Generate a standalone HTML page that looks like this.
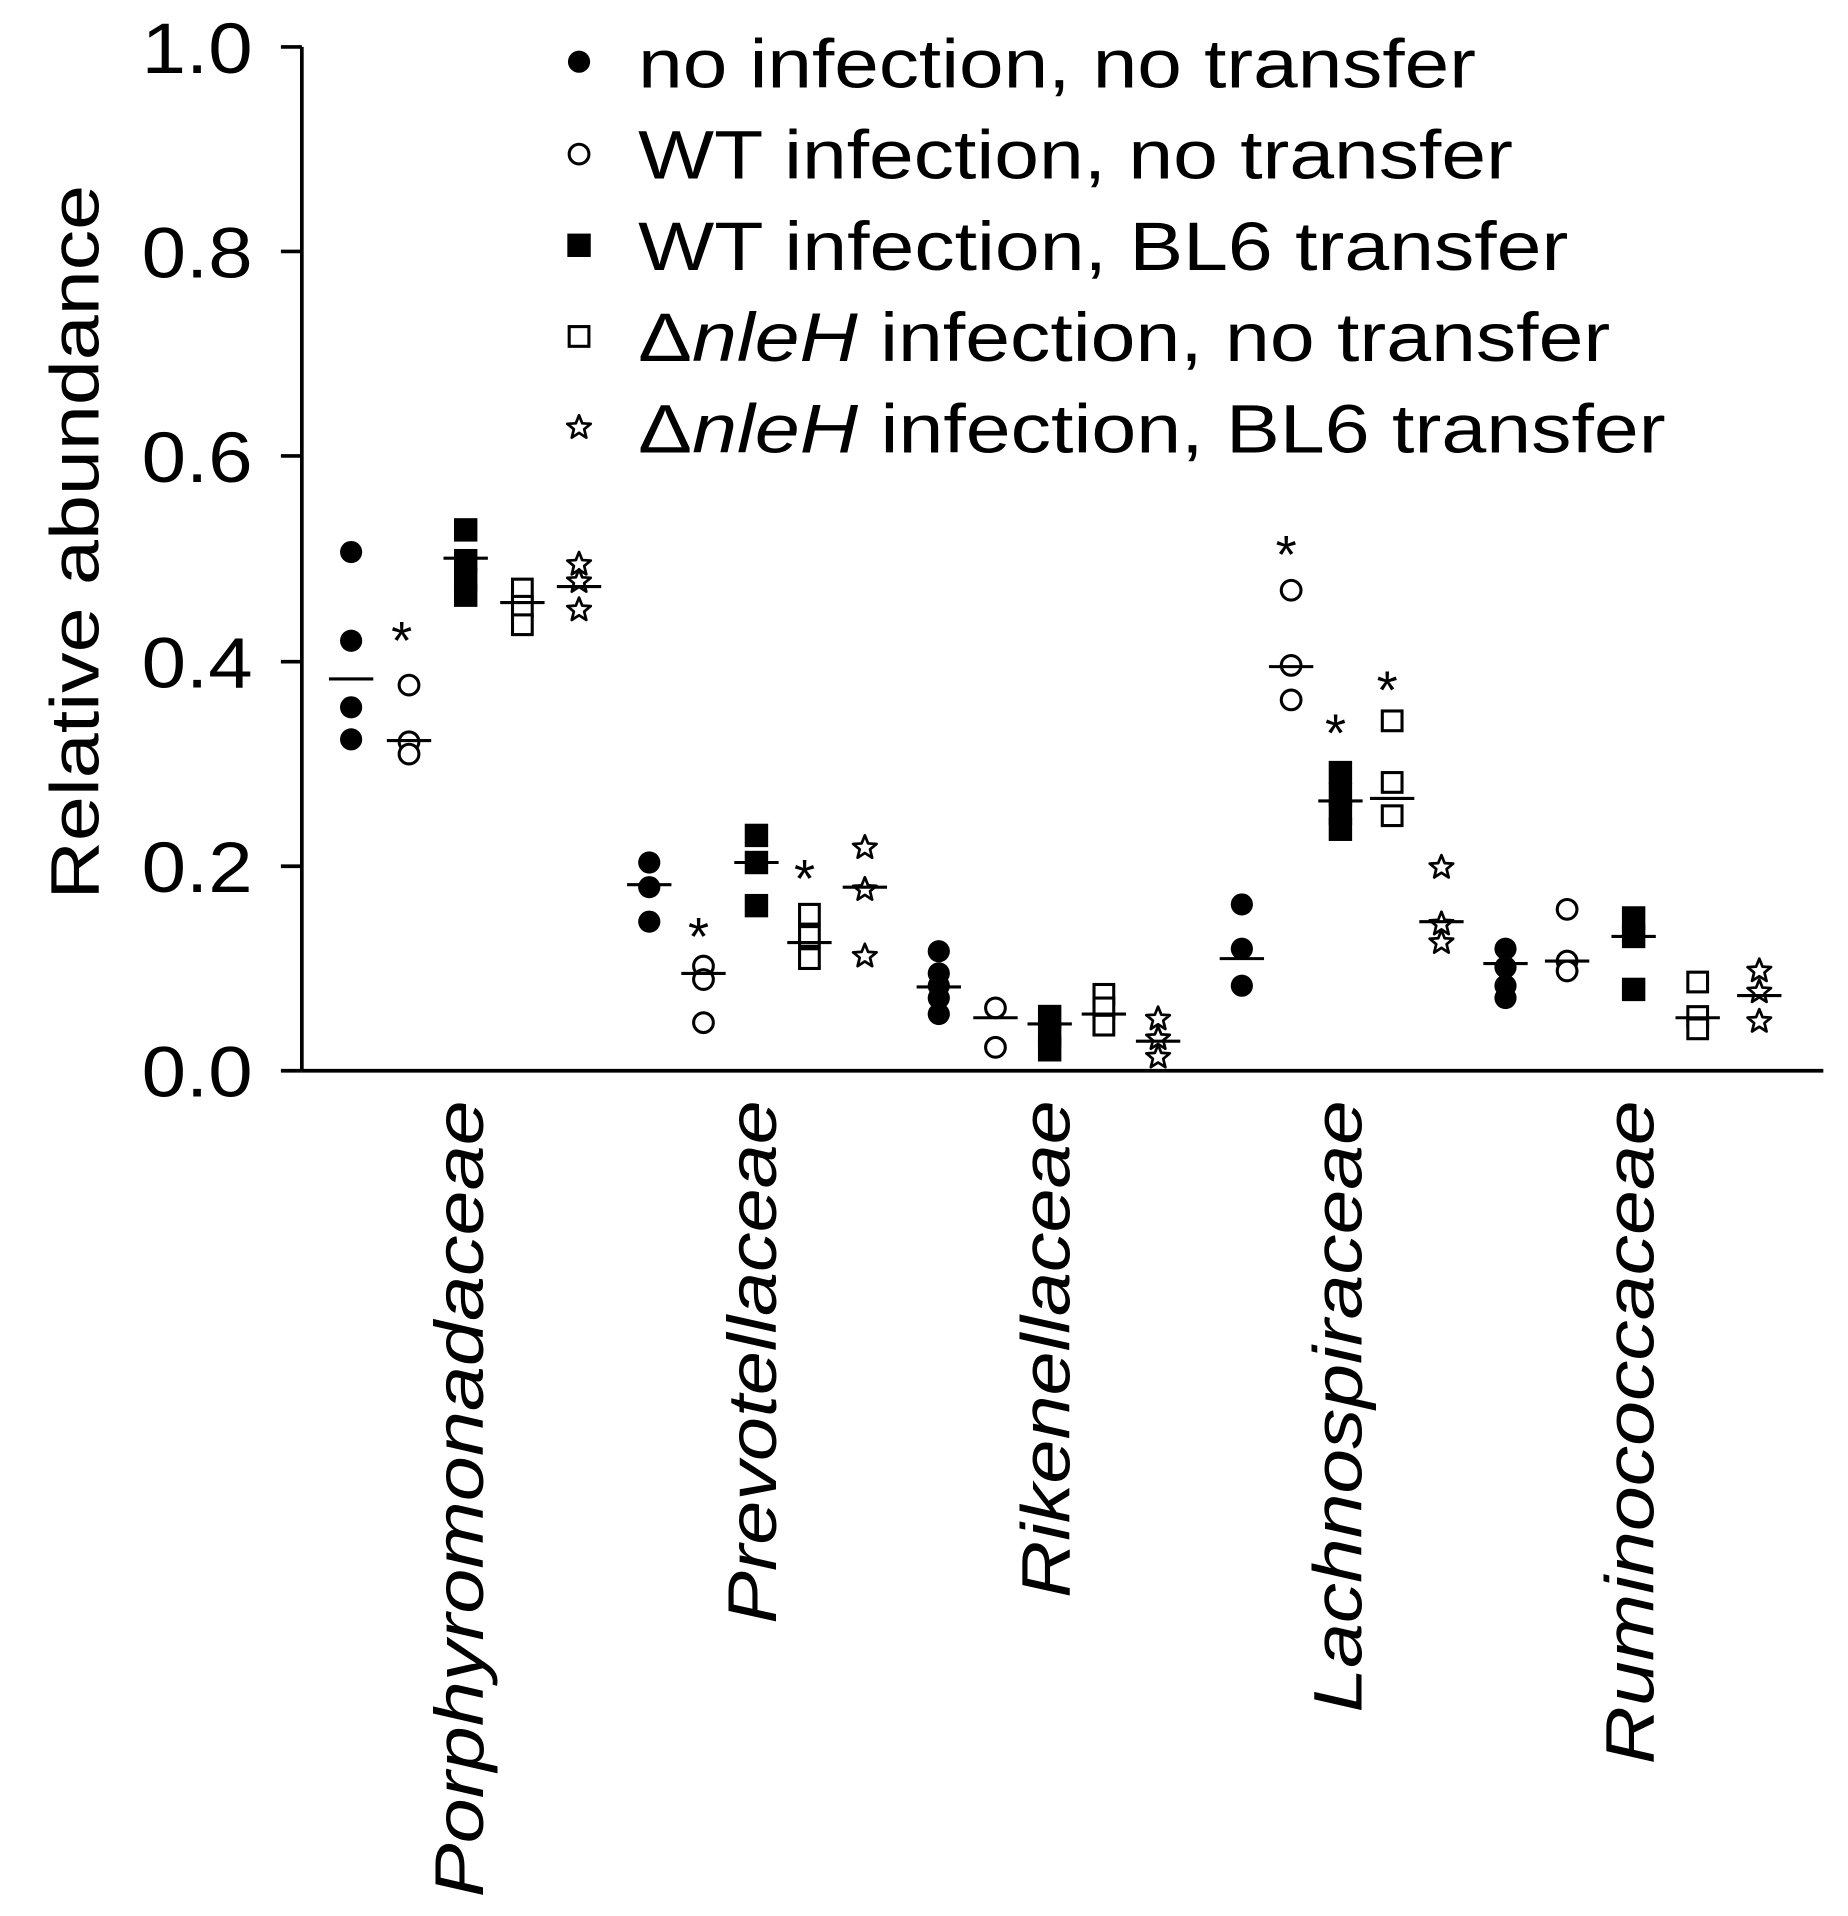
<!DOCTYPE html>
<html><head><meta charset="utf-8"><style>html,body{margin:0;padding:0;background:#fff}svg{display:block}</style></head>
<body>
<svg width="1848" height="1916" viewBox="0 0 1500 1555" xmlns="http://www.w3.org/2000/svg" font-family="Liberation Sans, Arial, sans-serif">
<defs>
<circle id="fc" r="9" fill="#000"/>
<circle id="oc" r="8" fill="#fff" stroke="#000" stroke-width="2.5"/>
<rect id="fs" x="-9.5" y="-9.5" width="19" height="19" fill="#000"/>
<rect id="os" x="-8" y="-8" width="16" height="16" fill="#fff" stroke="#000" stroke-width="2.5"/>
<polygon id="st" points="0,-10 2.6,-3.5 9.5,-3.1 4.2,1.3 5.9,8.1 0,4.3 -5.9,8.1 -4.2,1.3 -9.5,-3.1 -2.6,-3.5" fill="#fff" stroke="#000" stroke-width="2.2" stroke-linejoin="round"/>
</defs>
<g stroke="#000" stroke-width="3" fill="none">
<line x1="245" y1="38" x2="245" y2="869"/>
<line x1="245" y1="869" x2="1480" y2="869"/>
<line x1="228" y1="38" x2="245" y2="38"/>
<line x1="228" y1="204" x2="245" y2="204"/>
<line x1="228" y1="370" x2="245" y2="370"/>
<line x1="228" y1="537" x2="245" y2="537"/>
<line x1="228" y1="703" x2="245" y2="703"/>
<line x1="228" y1="869" x2="245" y2="869"/>
</g>
<g font-size="58">
<text x="115" y="59" textLength="90" lengthAdjust="spacingAndGlyphs">1.0</text>
<text x="115" y="225" textLength="90" lengthAdjust="spacingAndGlyphs">0.8</text>
<text x="115" y="391" textLength="90" lengthAdjust="spacingAndGlyphs">0.6</text>
<text x="115" y="558" textLength="90" lengthAdjust="spacingAndGlyphs">0.4</text>
<text x="115" y="724" textLength="90" lengthAdjust="spacingAndGlyphs">0.2</text>
<text x="115" y="890" textLength="90" lengthAdjust="spacingAndGlyphs">0.0</text>
</g>
<text transform="translate(80,730) rotate(-90)" font-size="56" textLength="580" lengthAdjust="spacingAndGlyphs">Relative abundance</text>
<g font-size="56" font-style="italic">
<text transform="translate(392,1540) rotate(-90)" textLength="647" lengthAdjust="spacingAndGlyphs">Porphyromonadaceae</text>
<text transform="translate(630,1318) rotate(-90)" textLength="425" lengthAdjust="spacingAndGlyphs">Prevotellaceae</text>
<text transform="translate(868,1297) rotate(-90)" textLength="404" lengthAdjust="spacingAndGlyphs">Rikenellaceae</text>
<text transform="translate(1105,1390) rotate(-90)" textLength="497" lengthAdjust="spacingAndGlyphs">Lachnospiraceae</text>
<text transform="translate(1342,1432) rotate(-90)" textLength="539" lengthAdjust="spacingAndGlyphs">Ruminococcaceae</text>
</g>
<!-- legend -->
<use href="#fc" x="470" y="50"/><use href="#oc" x="470" y="125"/><use href="#fs" x="470" y="199"/><use href="#os" x="470" y="273"/><use href="#st" x="470" y="347"/>
<g font-size="56">
<text x="518" y="71" textLength="680" lengthAdjust="spacingAndGlyphs">no infection, no transfer</text>
<text x="518" y="145" textLength="710" lengthAdjust="spacingAndGlyphs">WT infection, no transfer</text>
<text x="518" y="219" textLength="755" lengthAdjust="spacingAndGlyphs">WT infection, BL6 transfer</text>
<text x="518" y="293" textLength="789" lengthAdjust="spacingAndGlyphs">Δ<tspan font-style="italic">nleH</tspan> infection, no transfer</text>
<text x="518" y="367" textLength="834" lengthAdjust="spacingAndGlyphs">Δ<tspan font-style="italic">nleH</tspan> infection, BL6 transfer</text>
</g>
<!-- data -->
<g>
<use href="#fc" x="285" y="448"/><use href="#fc" x="285" y="520"/><use href="#fc" x="285" y="574"/><use href="#fc" x="285" y="600"/>
<use href="#oc" x="332" y="556"/><use href="#oc" x="332" y="602"/><use href="#oc" x="332" y="612"/>
<use href="#fs" x="378" y="430"/><use href="#fs" x="378" y="455"/><use href="#fs" x="378" y="470"/><use href="#fs" x="378" y="483"/>
<use href="#os" x="424" y="478"/><use href="#os" x="424" y="492"/><use href="#os" x="424" y="507"/>
<use href="#st" x="470" y="458"/><use href="#st" x="470" y="472"/><use href="#st" x="470" y="495"/>

<use href="#fc" x="527" y="700"/><use href="#fc" x="527" y="720"/><use href="#fc" x="527" y="748"/>
<use href="#oc" x="571" y="784"/><use href="#oc" x="571" y="795"/><use href="#oc" x="571" y="830"/>
<use href="#fs" x="614" y="678"/><use href="#fs" x="614" y="700"/><use href="#fs" x="614" y="735"/>
<use href="#os" x="657" y="742"/><use href="#os" x="657" y="760"/><use href="#os" x="657" y="778"/>
<use href="#st" x="702" y="688"/><use href="#st" x="702" y="722"/><use href="#st" x="702" y="776"/>

<use href="#fc" x="762" y="772"/><use href="#fc" x="762" y="790"/><use href="#fc" x="762" y="800"/><use href="#fc" x="762" y="810"/><use href="#fc" x="762" y="823"/>
<use href="#oc" x="808" y="818"/><use href="#oc" x="808" y="850"/>
<use href="#fs" x="852" y="825"/><use href="#fs" x="852" y="840"/><use href="#fs" x="852" y="852"/>
<use href="#os" x="896" y="807"/><use href="#os" x="896" y="818"/><use href="#os" x="896" y="832"/>
<use href="#st" x="940" y="827"/><use href="#st" x="940" y="843"/><use href="#st" x="940" y="858"/>

<use href="#fc" x="1008" y="734"/><use href="#fc" x="1008" y="770"/><use href="#fc" x="1008" y="800"/>
<use href="#oc" x="1048" y="479"/><use href="#oc" x="1048" y="540"/><use href="#oc" x="1048" y="568"/>
<use href="#fs" x="1088" y="627"/><use href="#fs" x="1088" y="645"/><use href="#fs" x="1088" y="660"/><use href="#fs" x="1088" y="673"/>
<use href="#os" x="1130" y="585"/><use href="#os" x="1130" y="635"/><use href="#os" x="1130" y="662"/>
<use href="#st" x="1170" y="704"/><use href="#st" x="1170" y="750"/><use href="#st" x="1170" y="765"/>

<use href="#fc" x="1222" y="770"/><use href="#fc" x="1222" y="785"/><use href="#fc" x="1222" y="800"/><use href="#fc" x="1222" y="810"/>
<use href="#oc" x="1272" y="738"/><use href="#oc" x="1272" y="780"/><use href="#oc" x="1272" y="788"/>
<use href="#fs" x="1326" y="745"/><use href="#fs" x="1326" y="760"/><use href="#fs" x="1326" y="803"/>
<use href="#os" x="1378" y="797"/><use href="#os" x="1378" y="825"/><use href="#os" x="1378" y="835"/>
<use href="#st" x="1428" y="788"/><use href="#st" x="1428" y="805"/><use href="#st" x="1428" y="829"/>
</g>
<g stroke="#000" stroke-width="2.5">
<line x1="267" x2="303" y1="551" y2="551"/><line x1="314" x2="350" y1="601" y2="601"/><line x1="360" x2="396" y1="453" y2="453"/><line x1="406" x2="442" y1="489" y2="489"/><line x1="452" x2="488" y1="476" y2="476"/>
<line x1="509" x2="545" y1="718" y2="718"/><line x1="553" x2="589" y1="790" y2="790"/><line x1="596" x2="632" y1="700" y2="700"/><line x1="639" x2="675" y1="765" y2="765"/><line x1="684" x2="720" y1="720" y2="720"/>
<line x1="744" x2="780" y1="801" y2="801"/><line x1="790" x2="826" y1="826" y2="826"/><line x1="834" x2="870" y1="831" y2="831"/><line x1="878" x2="914" y1="823" y2="823"/><line x1="922" x2="958" y1="845" y2="845"/>
<line x1="990" x2="1026" y1="778" y2="778"/><line x1="1030" x2="1066" y1="541" y2="541"/><line x1="1070" x2="1106" y1="650" y2="650"/><line x1="1112" x2="1148" y1="648" y2="648"/><line x1="1152" x2="1188" y1="748" y2="748"/>
<line x1="1204" x2="1240" y1="782" y2="782"/><line x1="1254" x2="1290" y1="780" y2="780"/><line x1="1308" x2="1344" y1="760" y2="760"/><line x1="1360" x2="1396" y1="826" y2="826"/><line x1="1410" x2="1446" y1="808" y2="808"/>
</g>
<g font-size="44" text-anchor="middle">
<text x="326" y="535">*</text><text x="567" y="775">*</text><text x="653" y="728">*</text>
<text x="1044" y="465">*</text><text x="1084" y="610">*</text><text x="1126" y="575">*</text>
</g>
</svg>
</body></html>
